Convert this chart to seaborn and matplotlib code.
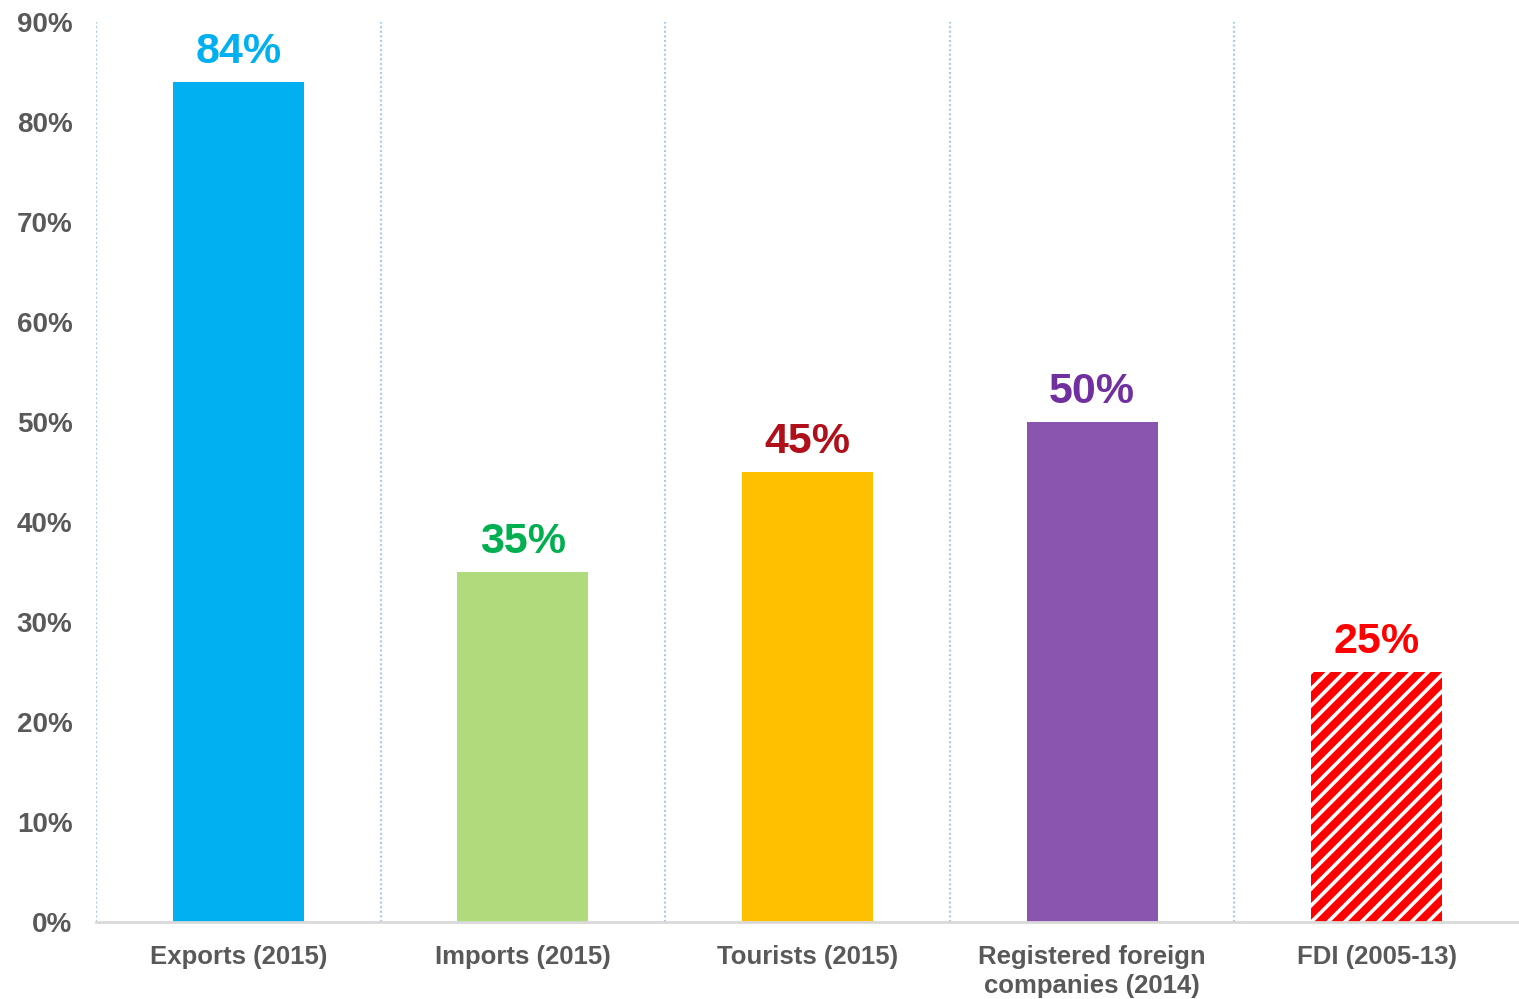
import matplotlib
matplotlib.use("Agg")
import matplotlib.pyplot as plt
import seaborn as sns
import pandas as pd

# Share of totals by indicator
categories = ["Exports (2015)", "Imports (2015)", "Tourists (2015)",
              "Registered foreign\ncompanies (2014)", "FDI (2005-13)"]
values = [84, 35, 45, 50, 25]
bar_colors = ["#00B0F0", "#B0DB7D", "#FFC000", "#8A55AE", "#FF0000"]
label_colors = ["#00B0F0", "#00B050", "#B0101A", "#7030A0", "#FF0000"]
y_ticks = [0, 10, 20, 30, 40, 50, 60, 70, 80, 90]

sns.set_theme(style="white")
plt.rcParams["font.family"] = ["Liberation Sans", "DejaVu Sans"]
plt.rcParams["font.weight"] = "bold"
plt.rcParams["hatch.linewidth"] = 2.6

df = pd.DataFrame({"category": categories, "value": values})

fig = plt.figure(figsize=(15.19, 9.99), dpi=100)
ax = fig.add_axes([96 / 1519, 77 / 999, 1 - 96 / 1519, 900 / 999])

sns.barplot(data=df, x="category", y="value", hue="category",
            palette=bar_colors, width=0.46, legend=False, ax=ax,
            saturation=1, linewidth=0)

# FDI bar: red with white diagonal stripes
fdi = ax.patches[4]
fdi.set_facecolor("#FF0000")
fdi.set_edgecolor("white")
fdi.set_linewidth(0)
fdi.set_hatch("//")

# Value labels above bars
for i, (v, c) in enumerate(zip(values, label_colors)):
    ax.annotate(f"{v}%", xy=(i, v), xytext=(0, 7), textcoords="offset points",
                ha="center", va="bottom", fontsize=31, fontweight="bold", color=c)

ax.set_ylim(0, 90)
ax.set_xlim(-0.5, 4.5)
ax.set_yticks(y_ticks)
ax.set_yticklabels([f"{t}%" for t in y_ticks])
ax.set_xlabel("")
ax.set_ylabel("")

# Dotted separators between categories
for xb in [-0.5, 0.5, 1.5, 2.5, 3.5]:
    ax.axvline(xb, color="#A6CBF0", linestyle=(0, (1, 1.2)), linewidth=1.5, zorder=0)

for side in ["top", "right", "left"]:
    ax.spines[side].set_visible(False)
ax.spines["bottom"].set_color("#D9D9D9")
ax.spines["bottom"].set_linewidth(2)

ax.tick_params(axis="both", length=0, colors="#595959")
ax.tick_params(axis="x", pad=16.5, labelsize=18.5)
ax.tick_params(axis="y", pad=17, labelsize=20)
for lab in ax.get_xticklabels() + ax.get_yticklabels():
    lab.set_fontweight("bold")
    lab.set_linespacing(1.25)

fig.savefig("out.png", dpi=100)
